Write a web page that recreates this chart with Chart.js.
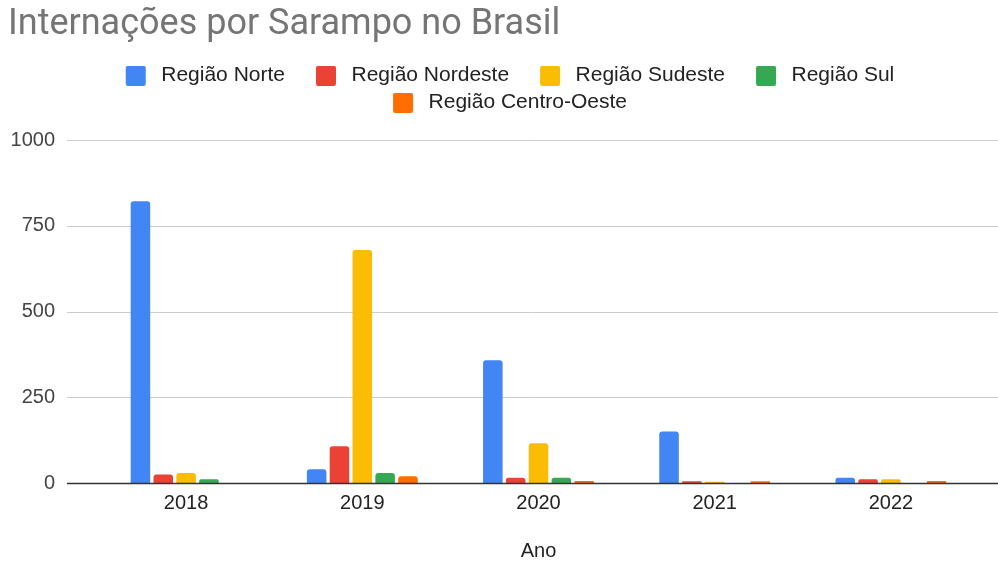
<!DOCTYPE html>
<html lang="pt-BR">
<head>
<meta charset="utf-8">
<title>Internações por Sarampo no Brasil</title>
<script src="https://cdn.jsdelivr.net/npm/chart.js@4.4.1/dist/chart.umd.min.js"></script>
<style>
    html, body {
        margin: 0;
        padding: 0;
        background: #ffffff;
    }
    .chart-wrap {
        width: 998px;
        height: 561px;
        position: relative;
    }
</style>
</head>
<body>
<div class="chart-wrap">
    <canvas id="sarampoChart"></canvas>
</div>
<script>
const anos = ["2018", "2019", "2020", "2021", "2022"];

const regiaoNorte = [822, 40, 358, 150, 15];
const regiaoNordeste = [25, 107, 15, 5, 11];
const regiaoSudeste = [29, 680, 116, 4, 11];
const regiaoSul = [11, 29, 15, 0, 0];
const regiaoCentroOeste = [0, 20, 6, 5, 6];

const yTicks = [0, 250, 500, 750, 1000];

const series = [
    { label: "Região Norte", data: regiaoNorte, color: "#4285f4" },
    { label: "Região Nordeste", data: regiaoNordeste, color: "#ea4335" },
    { label: "Região Sudeste", data: regiaoSudeste, color: "#fbbc04" },
    { label: "Região Sul", data: regiaoSul, color: "#34a853" },
    { label: "Região Centro-Oeste", data: regiaoCentroOeste, color: "#ff6d01" },
];

const FONT = "'Liberation Sans', Arial, sans-serif";

// legend swatch: square drawn near the right of a wider slot,
// so the gaps around it come out like the original legend
function makeSwatch(color) {
    const c = document.createElement("canvas");
    c.width = 50;
    c.height = 20;
    const ctx = c.getContext("2d");
    ctx.fillStyle = color;
    ctx.beginPath();
    ctx.roundRect(25, 0, 20, 20, 2);
    ctx.fill();
    return c;
}

const swatches = series.map((s) => makeSwatch(s.color));

// horizontal grid lines run wider than the bar area
const gridPlugin = {
    id: "wideGrid",
    beforeInit(chart) {
        const legend = chart.legend;
        if (legend) {
            const origFit = legend.fit;
            legend.fit = function () {
                origFit.call(this);
                this.height += 17;
            };
        }
    },
    afterLayout(chart) {
        if (chart.legend) {
            chart.legend.left += 4;
            chart.legend.right += 4;
        }
    },
    beforeDatasetsDraw(chart) {
        const ctx = chart.ctx;
        const y = chart.scales.y;
        const left = chart.chartArea.left - 31;
        ctx.save();
        ctx.lineWidth = 1;
        ctx.strokeStyle = "#cccccc";
        y.ticks.forEach(function (t) {
            if (t.value === 0) return;
            const py = Math.round(y.getPixelForValue(t.value)) + 0.5;
            ctx.beginPath();
            ctx.moveTo(left, py);
            ctx.lineTo(chart.width, py);
            ctx.stroke();
        });
        ctx.restore();
    },
    afterDatasetsDraw(chart) {
        const ctx = chart.ctx;
        const y = chart.scales.y;
        const left = chart.chartArea.left - 31;
        const py = Math.round(y.getPixelForValue(0)) + 0.5;
        ctx.save();
        ctx.lineWidth = 1.5;
        ctx.strokeStyle = "#333333";
        ctx.beginPath();
        ctx.moveTo(left, py);
        ctx.lineTo(chart.width, py);
        ctx.stroke();
        ctx.restore();
    },
};

function initializeChart() {
    const ctx = document.getElementById("sarampoChart");

    new Chart(ctx.getContext("2d"), {
        type: "bar",
        data: {
            labels: anos,
            datasets: series.map(function (s) {
                return {
                    label: s.label,
                    data: s.data,
                    backgroundColor: s.color,
                    borderRadius: 3,
                    categoryPercentage: 0.648,
                    barPercentage: 0.855,
                };
            }),
        },
        options: {
            responsive: true,
            maintainAspectRatio: false,
            animation: false,
            devicePixelRatio: 1,
            layout: {
                padding: { top: 0, left: 8, right: 19, bottom: 0 },
            },
            scales: {
                x: {
                    grid: { display: false, drawTicks: false },
                    border: { display: false },
                    ticks: {
                        color: "#222222",
                        padding: 8,
                        font: { family: FONT, size: 20 },
                    },
                    title: {
                        display: true,
                        text: "Ano",
                        color: "#222222",
                        padding: { top: 0, bottom: 0 },
                        font: { family: FONT, size: 20, lineHeight: 1 },
                    },
                    afterFit: function (scale) {
                        scale.height = 78;
                    },
                },
                y: {
                    min: 0,
                    max: 1000,
                    grid: { display: false, drawTicks: false },
                    border: { display: false },
                    afterBuildTicks: function (scale) {
                        scale.ticks = yTicks.map((v) => ({ value: v }));
                    },
                    ticks: {
                        color: "#444444",
                        padding: 43,
                        font: { family: FONT, size: 20 },
                        callback: function (value) {
                            return String(value);
                        },
                    },
                    afterFit: function (scale) {
                        scale.width = 90;
                    },
                },
            },
            plugins: {
                title: {
                    display: true,
                    text: "Internações por Sarampo no Brasil",
                    align: "start",
                    color: "#757575",
                    padding: { top: 3, bottom: 13 },
                    font: { family: "Roboto", size: 36, weight: "normal" },
                },
                legend: {
                    position: "top",
                    labels: {
                        color: "#222222",
                        font: { family: FONT, size: 21 },
                        padding: 6,
                        usePointStyle: true,
                        pointStyleWidth: 50,
                        generateLabels: function (chart) {
                            const items = Chart.defaults.plugins.legend.labels.generateLabels(chart);
                            items.forEach(function (item) {
                                item.pointStyle = swatches[item.datasetIndex];
                            });
                            return items;
                        },
                    },
                },
                tooltip: { enabled: false },
            },
        },
        plugins: [gridPlugin],
    });
}

initializeChart();
</script>
</body>
</html>
